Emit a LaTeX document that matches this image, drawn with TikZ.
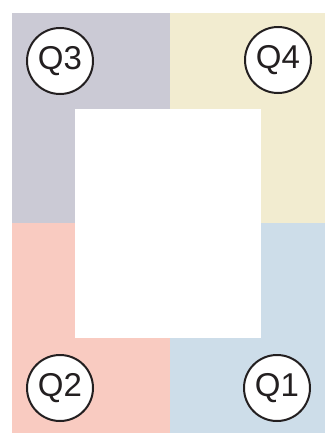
\documentclass[tikz,border=0pt]{standalone}
\usepackage{fontspec}
\setmainfont{Liberation Sans}
\definecolor{qgray}{HTML}{CBCAD5}
\definecolor{qcream}{HTML}{F2ECD0}
\definecolor{qpink}{HTML}{F9CBC1}
\definecolor{qblue}{HTML}{CDDDE9}
\definecolor{qink}{HTML}{231F20}
\begin{document}
\begin{tikzpicture}[x=1pt,y=-1pt,
  quad/.style={draw=none},
  badge/.style={circle,draw=qink,line width=2pt,fill=white,minimum size=66pt,inner sep=0pt,
    font=\fontsize{33}{33}\selectfont,text=qink}]
\useasboundingbox (0,0) rectangle (331,434);
\fill[qgray]  (12,13) rectangle (170,223);
\fill[qcream] (170,13) rectangle (325,223);
\fill[qpink]  (12,223) rectangle (170,433);
\fill[qblue]  (170,223) rectangle (325,433);
\fill[white] (75,109) rectangle (261,338);
\node[badge] (q3) at (60,61) {Q3};
\node[badge] (q4) at (278,60) {Q4};
\node[badge] (q2) at (60,388) {Q2};
\node[badge] (q1) at (277,388) {Q1};
\end{tikzpicture}
\end{document}
